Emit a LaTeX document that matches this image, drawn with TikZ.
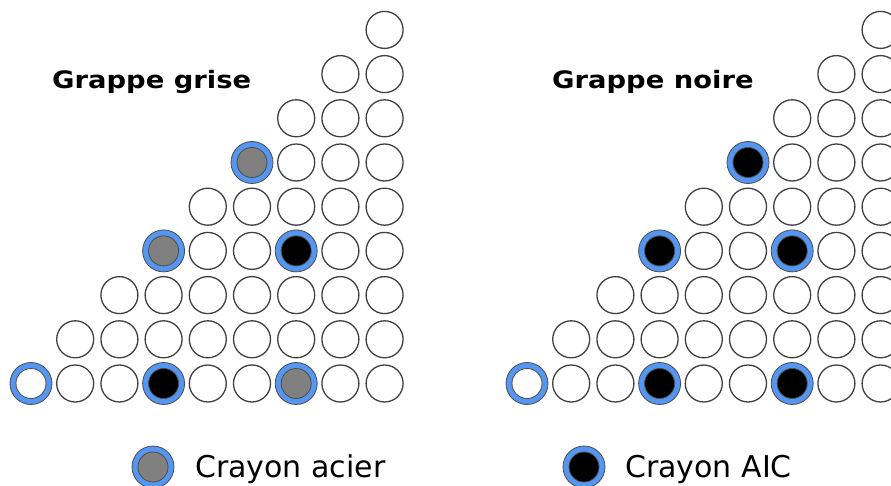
\documentclass[tikz,border=0pt]{standalone}
\usepackage{fontspec}
\setmainfont{DejaVu Sans}
\usetikzlibrary{positioning}
\definecolor{ringblue}{RGB}{85,150,240}
\definecolor{coregray}{RGB}{128,128,128}
\tikzset{
  crayon/.style={circle, draw=black!75, line width=1.3pt, fill=white,
    minimum size=37pt, inner sep=0pt},
  ring/.style={circle, draw=black!70, line width=0.8pt, fill=ringblue,
    minimum size=42pt, inner sep=0pt},
  core/.style={circle, draw=black!70, line width=0.8pt,
    minimum size=30pt, inner sep=0pt},
  title/.style={font=\fontsize{24}{28}\selectfont\bfseries, anchor=base west, inner sep=0pt},
  legend/.style={font=\fontsize{30}{34}\selectfont, anchor=base west, inner sep=0pt},
}
\begin{document}
\begin{tikzpicture}[x=1pt, y=-1pt]
  \useasboundingbox (0,0) rectangle (891,486);
  \clip (0,0) rectangle (891,486);
% =========================================================
% (A) Grappe grise
% =========================================================
  \node[title] (tg) at (52,89) {\scalebox{1.14}[1]{Grappe grise}};
  \foreach \r in {0,...,8}
    \foreach \c in {\r,...,8}
      \node[crayon] (g\r\c) at ({31+44.2*\c},{383.5-44.2*\r}) {};
  % crayons speciaux
  \node[ring] at (g00) {};
  \node[core, fill=white] at (g00) {};
  \foreach \n in {g03, g36}{
    \node[ring] at (\n) {};
    \node[core, fill=black] at (\n) {};
  }
  \foreach \n in {g06, g33, g55}{
    \node[ring] at (\n) {};
    \node[core, fill=coregray] at (\n) {};
  }
% =========================================================
% (B) Grappe noire
% =========================================================
  \node[title] (tn) at (552,89) {\scalebox{1.14}[1]{Grappe noire}};
  \foreach \r in {0,...,8}
    \foreach \c in {\r,...,8}
      \node[crayon] (n\r\c) at ({527+44.2*\c},{383.5-44.2*\r}) {};
  \node[ring] at (n00) {};
  \node[core, fill=white] at (n00) {};
  \foreach \n in {n03, n06, n33, n36, n55}{
    \node[ring] at (\n) {};
    \node[core, fill=black] at (\n) {};
  }
% =========================================================
% (C) Legende
% =========================================================
  \node[ring] (la) at (153,467) {};
  \node[core, fill=coregray] at (la) {};
  \node[legend] (ta) at (195,477) {Crayon acier};
  \node[ring] (lb) at (584,467) {};
  \node[core, fill=black] at (lb) {};
  \node[legend] (tb) at (625,477) {Crayon AIC};
\end{tikzpicture}
\end{document}
